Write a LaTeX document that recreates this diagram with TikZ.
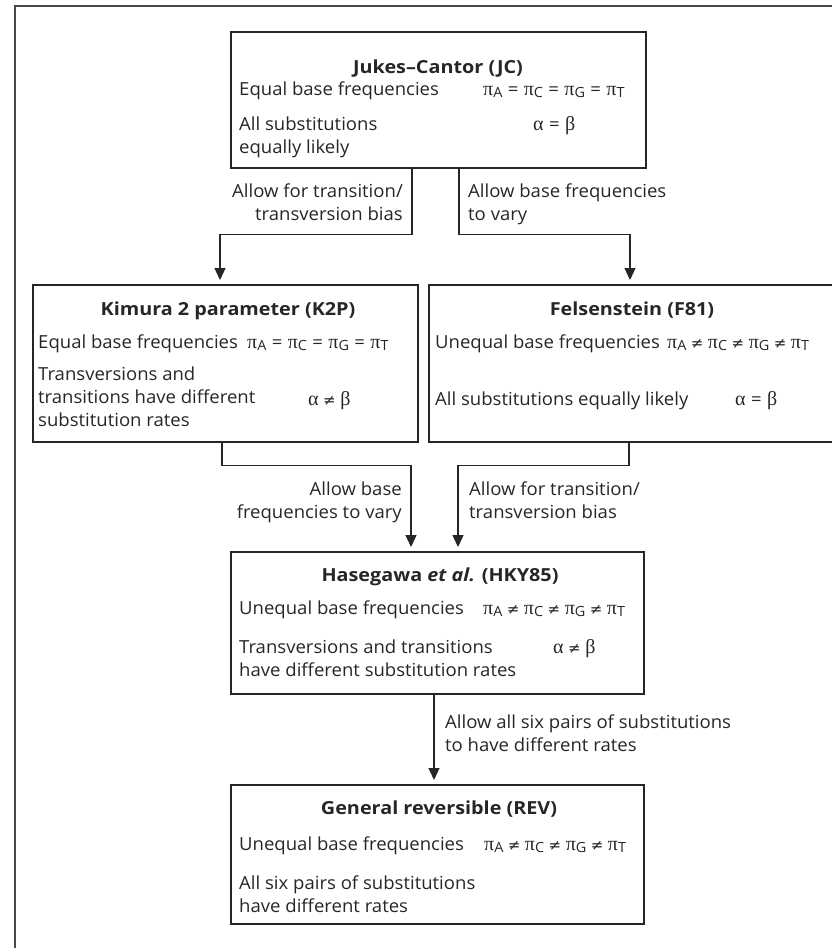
\documentclass[tikz,border=0pt]{standalone}
\usepackage{fontspec}
\setmainfont{Open Sans}[FakeStretch=1.03]
\newfontfamily\titlefont{Open Sans}[FakeStretch=1.1]
\newfontfamily\greekfont{Liberation Serif}
\newfontfamily\symfont{DejaVu Sans}
\usetikzlibrary{arrows.meta,calc}
\definecolor{ink}{HTML}{262626}
\newcommand{\bodyfont}{\fontsize{18}{23}\selectfont}
\newcommand{\gk}[1]{{\greekfont\fontsize{20}{23}\selectfont #1}}
\newcommand{\pis}[1]{\gk{π}\raisebox{-0.3ex}{\fontsize{14}{14}\selectfont #1}}
\newcommand{\eqsym}{\hspace{0.3em}=\hspace{0.3em}}
\newcommand{\nesym}{\hspace{0.25em}{\symfont\fontsize{15}{18}\selectfont ≠}\hspace{0.25em}}
\newcommand{\alleq}{\pis{A}\eqsym\pis{C}\eqsym\pis{G}\eqsym\pis{T}}
\newcommand{\allne}{\pis{A}\nesym\pis{C}\nesym\pis{G}\nesym\pis{T}}

\begin{document}
\begin{tikzpicture}[x=1pt,y=-1pt,
  box/.style={draw=ink, line width=1.7pt, anchor=north west, inner sep=0pt},
  txt/.style={inner sep=0pt, text=ink, font=\bodyfont},
  ttl/.style={inner sep=0pt, text=ink, font=\titlefont\fontsize{18}{23}\selectfont\bfseries, anchor=base},
  conn/.style={draw=ink, line width=1.3pt},
  arr/.style={conn, -{Triangle[length=12pt,width=11pt]}, shorten >=4pt},
  frame/.style={draw=ink!85, line width=1.8pt},
]
\useasboundingbox (0,0) rectangle (832,948);
\clip (0,0) rectangle (832,948);

% outer frame (only its top and left edges fall inside the page)
\draw[frame] (15,980) -- (15,6) -- (860,6);

% model boxes
\node[box, minimum width=415pt, minimum height=136pt] (jc)  at (230,31)  {};
\node[box, minimum width=385pt, minimum height=157pt] (k2p) at (32,284)  {};
\node[box, minimum width=412pt, minimum height=157pt] (f81) at (428,284) {};
\node[box, minimum width=413pt, minimum height=142pt] (hky) at (230,551) {};
\node[box, minimum width=413pt, minimum height=139pt] (rev) at (230,784) {};

% Jukes-Cantor
\node[ttl] (jct) at (438,73) {Jukes–Cantor (JC)};
\node[txt, anchor=base west] (jc1) at (239,95) {Equal base frequencies};
\node[txt, anchor=base west] (jc1f) at (483,95) {\alleq};
\node[txt, anchor=north west, align=left] (jc2) at (239,117) {All substitutions\\equally likely};
\node[txt, anchor=base west] (jc2f) at (533,130) {\gk{α}\eqsym\gk{β}};

% Kimura 2 parameter
\node[ttl] (k2pt) at (228,315) {Kimura 2 parameter (K2P)};
\node[txt, anchor=base west] (k2p1) at (38,348) {Equal base frequencies};
\node[txt, anchor=base west] (k2p1f) at (247,348) {\alleq};
\node[txt, anchor=north west, align=left] (k2p2) at (38,367) {Transversions and\\transitions have different\\substitution rates};
\node[txt, anchor=base west] (k2p2f) at (308,405) {\gk{α}\nesym\gk{β}};

% Felsenstein
\node[ttl] (f81t) at (632,315) {Felsenstein (F81)};
\node[txt, anchor=base west] (f811) at (435,348) {Unequal base frequencies};
\node[txt, anchor=base west] (f811f) at (667,348) {\allne};
\node[txt, anchor=base west] (f812) at (435,405) {All substitutions equally likely};
\node[txt, anchor=base west] (f812f) at (735,405) {\gk{α}\eqsym\gk{β}};

% Hasegawa et al.
\node[ttl] (hkyt) at (440,581) {Hasegawa \textit{et al.} (HKY85)};
\node[txt, anchor=base west] (hky1) at (239,614) {Unequal base frequencies};
\node[txt, anchor=base west] (hky1f) at (483,614) {\allne};
\node[txt, anchor=north west, align=left] (hky2) at (239,640) {Transversions and transitions\\have different substitution rates};
\node[txt, anchor=base west] (hky2f) at (553,653) {\gk{α}\nesym\gk{β}};

% General reversible
\node[ttl] (revt) at (439,814) {General reversible (REV)};
\node[txt, anchor=base west] (rev1) at (239,850) {Unequal base frequencies};
\node[txt, anchor=base west] (rev1f) at (484,850) {\allne};
\node[txt, anchor=north west, align=left] (rev2) at (239,876) {All six pairs of substitutions\\have different rates};

% connector end points on the boxes
\coordinate (jcl)    at ($(jc.south west)+(182,0)$);
\coordinate (jcr)    at ($(jc.south west)+(229,0)$);
\coordinate (k2pin)  at ($(k2p.north west)+(188,0)$);
\coordinate (f81in)  at ($(f81.north west)+(202,0)$);
\coordinate (k2pout) at ($(k2p.south west)+(190,0)$);
\coordinate (f81out) at ($(f81.south west)+(201,0)$);
\coordinate (hkyinl) at ($(hky.north west)+(181,0)$);
\coordinate (hkyinr) at ($(hky.north west)+(228,0)$);
\coordinate (hkyout) at ($(hky.south west)+(204,0)$);

% connectors
\draw[arr] (jcl) -- ++(0,66) -| (k2pin);
\draw[arr] (jcr) -- ++(0,66) -| (f81in);
\draw[arr] (k2pout) -- ++(0,23) -| (hkyinl);
\draw[arr] (f81out) -- ++(0,23) -| (hkyinr);
\draw[arr] (hkyout) -- (hkyout |- rev.north);

% connector labels
\node[txt, anchor=north east, align=right] (l1) at (403,184) {Allow for transition/\\transversion bias};
\node[txt, anchor=north west, align=left] (l2) at (468,184) {Allow base frequencies\\to vary};
\node[txt, anchor=north east, align=right] (l3) at (402,482) {Allow base\\frequencies to vary};
\node[txt, anchor=north west, align=left] (l4) at (469,482) {Allow for transition/\\transversion bias};
\node[txt, anchor=north west, align=left] (l5) at (445,715) {Allow all six pairs of substitutions\\to have different rates};
\end{tikzpicture}
\end{document}
